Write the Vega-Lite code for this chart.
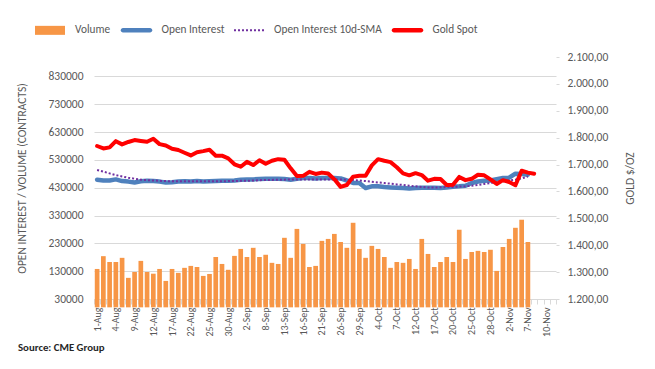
{
  "$schema": "https://vega.github.io/schema/vega-lite/v6.json",
  "autosize": {"type": "none"},
  "width": 462,
  "height": 242,
  "padding": {"left": 94, "top": 57, "right": 99, "bottom": 70},
  "title": {"text": "Source: CME Group", "orient": "bottom", "anchor": "start", "frame": "group", "dx": -76, "offset": 6, "font": "Carlito, Lato, sans-serif", "fontSize": 10.8, "fontWeight": "bold", "color": "#262626"},
  "data": {"values": [
    {"d": "1-Aug", "vol": 138000, "oi": 459000, "sma": 494000, "gold": 1769},
    {"d": "2-Aug", "vol": 184000, "oi": 456000, "sma": 488000, "gold": 1760},
    {"d": "3-Aug", "vol": 163000, "oi": 456000, "sma": 481500, "gold": 1764},
    {"d": "4-Aug", "vol": 163000, "oi": 460000, "sma": 475500, "gold": 1787},
    {"d": "5-Aug", "vol": 178000, "oi": 454000, "sma": 470500, "gold": 1775},
    {"d": "8-Aug", "vol": 106000, "oi": 452000, "sma": 466000, "gold": 1784},
    {"d": "9-Aug", "vol": 127000, "oi": 449000, "sma": 462500, "gold": 1791},
    {"d": "10-Aug", "vol": 167000, "oi": 453000, "sma": 459000, "gold": 1788},
    {"d": "11-Aug", "vol": 127000, "oi": 455000, "sma": 457500, "gold": 1785},
    {"d": "12-Aug", "vol": 121000, "oi": 454000, "sma": 456000, "gold": 1796},
    {"d": "15-Aug", "vol": 138000, "oi": 452000, "sma": 455000, "gold": 1776},
    {"d": "16-Aug", "vol": 95000, "oi": 449000, "sma": 454000, "gold": 1771},
    {"d": "17-Aug", "vol": 138000, "oi": 450000, "sma": 453000, "gold": 1759},
    {"d": "18-Aug", "vol": 124000, "oi": 452000, "sma": 453000, "gold": 1754},
    {"d": "19-Aug", "vol": 142000, "oi": 453000, "sma": 453000, "gold": 1744},
    {"d": "22-Aug", "vol": 149000, "oi": 452000, "sma": 453000, "gold": 1734},
    {"d": "23-Aug", "vol": 145000, "oi": 454000, "sma": 453000, "gold": 1746},
    {"d": "24-Aug", "vol": 113000, "oi": 452000, "sma": 453000, "gold": 1750},
    {"d": "25-Aug", "vol": 120000, "oi": 453000, "sma": 453000, "gold": 1755},
    {"d": "26-Aug", "vol": 181000, "oi": 454000, "sma": 453000, "gold": 1733},
    {"d": "29-Aug", "vol": 156000, "oi": 455000, "sma": 453000, "gold": 1733},
    {"d": "30-Aug", "vol": 135000, "oi": 455000, "sma": 454000, "gold": 1723},
    {"d": "31-Aug", "vol": 185000, "oi": 456000, "sma": 454000, "gold": 1701},
    {"d": "1-Sep", "vol": 210000, "oi": 459000, "sma": 455000, "gold": 1692},
    {"d": "2-Sep", "vol": 181000, "oi": 460000, "sma": 455000, "gold": 1710},
    {"d": "6-Sep", "vol": 214000, "oi": 460000, "sma": 456000, "gold": 1698},
    {"d": "7-Sep", "vol": 181000, "oi": 461000, "sma": 457000, "gold": 1716},
    {"d": "8-Sep", "vol": 189000, "oi": 462000, "sma": 458000, "gold": 1703},
    {"d": "9-Sep", "vol": 160000, "oi": 462000, "sma": 458000, "gold": 1714},
    {"d": "12-Sep", "vol": 156000, "oi": 462000, "sma": 459000, "gold": 1720},
    {"d": "13-Sep", "vol": 250000, "oi": 461000, "sma": 459000, "gold": 1718},
    {"d": "14-Sep", "vol": 178000, "oi": 459000, "sma": 460000, "gold": 1686},
    {"d": "15-Sep", "vol": 282000, "oi": 462000, "sma": 460000, "gold": 1657},
    {"d": "16-Sep", "vol": 228000, "oi": 465000, "sma": 460000, "gold": 1658},
    {"d": "19-Sep", "vol": 145000, "oi": 465000, "sma": 460000, "gold": 1673},
    {"d": "20-Sep", "vol": 149000, "oi": 463500, "sma": 460000, "gold": 1665},
    {"d": "21-Sep", "vol": 239000, "oi": 465000, "sma": 460000, "gold": 1670},
    {"d": "22-Sep", "vol": 246000, "oi": 465000, "sma": 460000, "gold": 1667},
    {"d": "23-Sep", "vol": 264000, "oi": 465000, "sma": 460000, "gold": 1645},
    {"d": "26-Sep", "vol": 235000, "oi": 463500, "sma": 459500, "gold": 1617},
    {"d": "27-Sep", "vol": 214000, "oi": 456000, "sma": 459000, "gold": 1624},
    {"d": "28-Sep", "vol": 304000, "oi": 447000, "sma": 458000, "gold": 1655},
    {"d": "29-Sep", "vol": 210000, "oi": 447000, "sma": 456000, "gold": 1658},
    {"d": "30-Sep", "vol": 178000, "oi": 429000, "sma": 454000, "gold": 1658},
    {"d": "3-Oct", "vol": 221000, "oi": 435000, "sma": 451500, "gold": 1697},
    {"d": "4-Oct", "vol": 210000, "oi": 435000, "sma": 449000, "gold": 1720},
    {"d": "5-Oct", "vol": 181000, "oi": 432500, "sma": 447000, "gold": 1714},
    {"d": "6-Oct", "vol": 142000, "oi": 431000, "sma": 444500, "gold": 1709},
    {"d": "7-Oct", "vol": 163000, "oi": 430000, "sma": 442000, "gold": 1690},
    {"d": "10-Oct", "vol": 160000, "oi": 429000, "sma": 440000, "gold": 1667},
    {"d": "11-Oct", "vol": 174000, "oi": 427500, "sma": 437500, "gold": 1660},
    {"d": "12-Oct", "vol": 138000, "oi": 429000, "sma": 435000, "gold": 1668},
    {"d": "13-Oct", "vol": 246000, "oi": 430000, "sma": 433000, "gold": 1661},
    {"d": "14-Oct", "vol": 192000, "oi": 430000, "sma": 431000, "gold": 1640},
    {"d": "17-Oct", "vol": 145000, "oi": 430000, "sma": 431000, "gold": 1647},
    {"d": "18-Oct", "vol": 163000, "oi": 429000, "sma": 431500, "gold": 1646},
    {"d": "19-Oct", "vol": 181000, "oi": 431000, "sma": 432500, "gold": 1624},
    {"d": "20-Oct", "vol": 163000, "oi": 433500, "sma": 433000, "gold": 1625},
    {"d": "21-Oct", "vol": 279000, "oi": 435000, "sma": 434000, "gold": 1654},
    {"d": "24-Oct", "vol": 174000, "oi": 437000, "sma": 435000, "gold": 1642},
    {"d": "25-Oct", "vol": 199000, "oi": 447000, "sma": 437500, "gold": 1647},
    {"d": "26-Oct", "vol": 203000, "oi": 452500, "sma": 440000, "gold": 1662},
    {"d": "27-Oct", "vol": 199000, "oi": 455000, "sma": 443500, "gold": 1660},
    {"d": "28-Oct", "vol": 207000, "oi": 456000, "sma": 447000, "gold": 1645},
    {"d": "31-Oct", "vol": 131000, "oi": 461000, "sma": 450000, "gold": 1628},
    {"d": "1-Nov", "vol": 217000, "oi": 465000, "sma": 452500, "gold": 1642},
    {"d": "2-Nov", "vol": 246000, "oi": 466000, "sma": 456000, "gold": 1635},
    {"d": "3-Nov", "vol": 286000, "oi": 480500, "sma": 459000, "gold": 1623},
    {"d": "4-Nov", "vol": 315000, "oi": 479000, "sma": 463500, "gold": 1677},
    {"d": "7-Nov", "vol": 235000, "oi": 477000, "sma": 470500, "gold": 1670},
    {"d": "8-Nov", "vol": null, "oi": null, "sma": null, "gold": 1666}
  ]},
  "encoding": {
    "x": {
      "field": "d", "type": "ordinal", "sort": null,
      "scale": {"padding": 0, "domain": ["1-Aug","2-Aug","3-Aug","4-Aug","5-Aug","8-Aug","9-Aug","10-Aug","11-Aug","12-Aug","15-Aug","16-Aug","17-Aug","18-Aug","19-Aug","22-Aug","23-Aug","24-Aug","25-Aug","26-Aug","29-Aug","30-Aug","31-Aug","1-Sep","2-Sep","6-Sep","7-Sep","8-Sep","9-Sep","12-Sep","13-Sep","14-Sep","15-Sep","16-Sep","19-Sep","20-Sep","21-Sep","22-Sep","23-Sep","26-Sep","27-Sep","28-Sep","29-Sep","30-Sep","3-Oct","4-Oct","5-Oct","6-Oct","7-Oct","10-Oct","11-Oct","12-Oct","13-Oct","14-Oct","17-Oct","18-Oct","19-Oct","20-Oct","21-Oct","24-Oct","25-Oct","26-Oct","27-Oct","28-Oct","31-Oct","1-Nov","2-Nov","3-Nov","4-Nov","7-Nov","8-Nov","9-Nov","10-Nov","11-Nov"]},
      "axis": {
        "title": null, "labelAngle": -90, "labelOverlap": false, "grid": false,
        "tickBand": "extent", "tickSize": 5, "tickColor": "#d9d9d9", "domainColor": "#d9d9d9",
        "labelPadding": 3, "labelFontSize": 10, "labelColor": "#595959",
        "labelExpr": "indexof(['1-Aug','4-Aug','9-Aug','12-Aug','17-Aug','22-Aug','25-Aug','30-Aug','2-Sep','8-Sep','13-Sep','16-Sep','21-Sep','26-Sep','29-Sep','4-Oct','7-Oct','12-Oct','17-Oct','20-Oct','25-Oct','28-Oct','2-Nov','7-Nov','10-Nov'], datum.value) >= 0 ? datum.value : ''"
      }
    }
  },
  "layer": [
    {
      "layer": [
        {
          "mark": {"type": "bar", "width": {"band": 0.75}},
          "encoding": {
            "y": {"field": "vol", "type": "quantitative", "scale": {"domain": [30000, 900000], "nice": false, "zero": false},
              "axis": {"title": "OPEN INTEREST / VOLUME (CONTRACTS)", "values": [30000,130000,230000,330000,430000,530000,630000,730000,830000], "tickCount": 20, "format": "d", "labelOverlap": false, "ticks": false, "domain": false, "labelPadding": 11, "labelFontSize": 11.5, "labelColor": "#595959", "gridColor": "#d9d9d9", "titleAngle": -90, "titleX": -72, "titleY": 121, "titleFontSize": 11.5, "titleFontWeight": "normal", "titleColor": "#595959", "titleAlign": "center", "titleBaseline": "middle"}},
            "color": {"datum": "Volume", "legend": {
              "encode": {"symbols": {"update": {
                "shape": {"signal": "datum.value === 'Volume' ? 'M-1,-0.3H1V0.3H-1Z' : datum.value === 'Open Interest 10d-SMA' ? 'M-1,-0.067h0.133v0.133h-0.133Z M-0.733,-0.067h0.133v0.133h-0.133Z M-0.467,-0.067h0.133v0.133h-0.133Z M-0.2,-0.067h0.133v0.133h-0.133Z M0.067,-0.067h0.133v0.133h-0.133Z M0.333,-0.067h0.133v0.133h-0.133Z M0.6,-0.067h0.133v0.133h-0.133Z M0.867,-0.067h0.133v0.133h-0.133Z' : 'M-0.9,-0.15H0.9A0.15,0.15,0,0,1,0.9,0.15H-0.9A0.15,0.15,0,0,1,-0.9,-0.15Z'"},
                "fill": {"signal": "datum.value === 'Volume' ? '#F79646' : datum.value === 'Open Interest' ? '#4F81BD' : datum.value === 'Gold Spot' ? '#FF0000' : '#7030A0'"},
                "stroke": {"value": "transparent"},
                "opacity": {"value": 1}
              }}}
            }}
          }
        },
        {
          "mark": {"type": "line", "strokeWidth": 4.5, "strokeCap": "round", "strokeJoin": "round"},
          "encoding": {
            "y": {"field": "oi", "type": "quantitative"},
            "color": {"datum": "Open Interest"}
          }
        },
        {
          "mark": {"type": "line", "strokeWidth": 2, "strokeDash": [2, 2]},
          "encoding": {
            "y": {"field": "sma", "type": "quantitative"},
            "color": {"datum": "Open Interest 10d-SMA"}
          }
        }
      ]
    },
    {
      "mark": {"type": "line", "strokeWidth": 4, "strokeCap": "round", "strokeJoin": "round"},
      "encoding": {
        "y": {"field": "gold", "type": "quantitative", "scale": {"domain": [1200, 2100], "nice": false, "zero": false},
          "axis": {"orient": "right", "title": "GOLD $/OZ", "values": [1200,1300,1400,1500,1600,1700,1800,1900,2000,2100], "tickCount": 20, "format": ",.2f", "labelOverlap": false, "ticks": true, "tickSize": 3, "tickColor": "#d9d9d9", "domain": false, "labelPadding": 8, "labelFontSize": 11.5, "labelColor": "#595959", "gridColor": "#d9d9d9", "titleAngle": -90, "titleX": 74, "titleY": 121, "titleFontSize": 11.5, "titleFontWeight": "normal", "titleColor": "#595959", "titleAlign": "center", "titleBaseline": "middle"}},
        "color": {"datum": "Gold Spot"}
      }
    }
  ],
  "resolve": {"scale": {"y": "independent"}},
  "config": {
    "font": "Carlito, Lato, sans-serif",
    "view": {"stroke": null},
    "axis": {"labelOverlap": false},
    "locale": {"number": {"decimal": ",", "thousands": ".", "grouping": [3], "currency": ["", ""]}},
    "range": {"category": ["#F79646", "#4F81BD", "#7030A0", "#FF0000"]},
    "legend": {
      "orient": "none", "legendX": -59, "legendY": -42, "direction": "horizontal", "title": null, "padding": 0,
      "symbolType": "square", "symbolSize": 900, "symbolStrokeWidth": 0,
      "labelFontSize": 11.3, "labelColor": "#595959", "labelOffset": 10, "columnPadding": 9.5, "labelLimit": 300,
      "symbolOpacity": 1
    }
  }
}
